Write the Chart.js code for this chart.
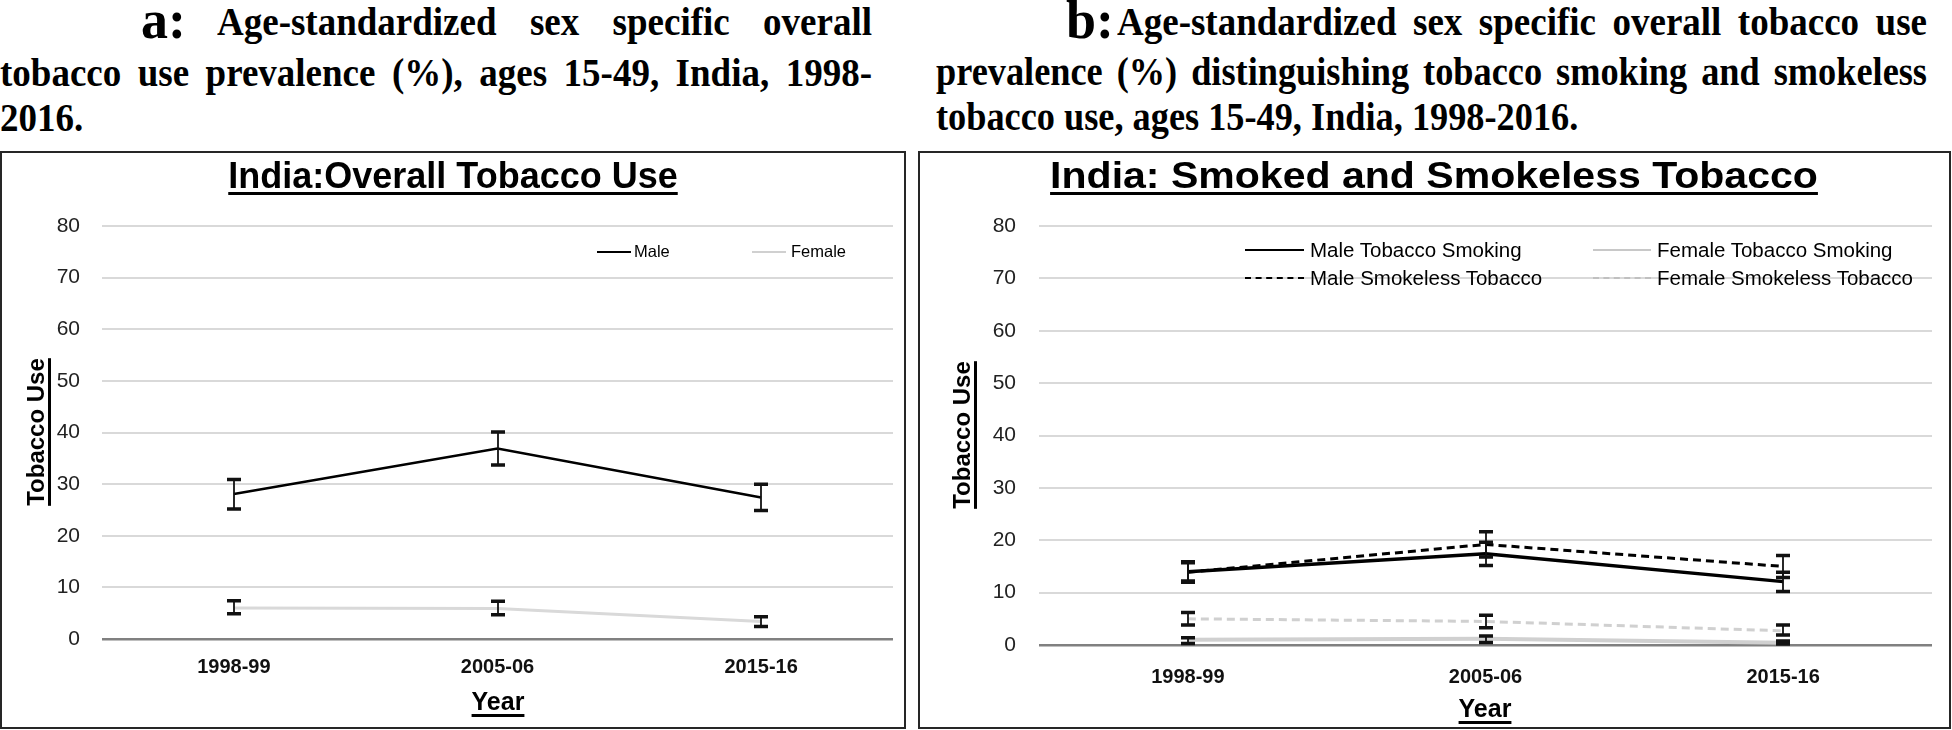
<!DOCTYPE html>
<html>
<head>
<meta charset="utf-8">
<script src="https://cdn.jsdelivr.net/npm/chart.js@4.4.1/dist/chart.umd.min.js"></script>
<style>
  body { margin: 0; width: 1952px; height: 730px; overflow: hidden; background: #fff; position: relative; }
  .hl { position: absolute; font: bold 37px "Times New Roman", "Liberation Serif", serif; line-height: 37px; color: #000;
        transform: scaleY(1.08); transform-origin: 0 31px; white-space: nowrap; }
  .just { white-space: normal; text-align: justify; text-align-last: justify; }
  .big { font-size: 54px; line-height: 54px; transform: none; }
  .box { position: absolute; top: 151px; height: 574px; border: 2px solid #262626; }
  canvas { position: absolute; }
  .ctitle { position: absolute; text-align: center; font: bold 36px "Liberation Sans", Arial, sans-serif; line-height: 36px;
            color: #000; }
  .ctitle span, .atitle span { text-decoration: underline; text-decoration-thickness: 3px; text-underline-offset: 4px; }
  .atitle { position: absolute; text-align: center; font: bold 24px "Liberation Sans", Arial, sans-serif; line-height: 24px; color: #000; }
  .leg { position: absolute; font-family: "Liberation Sans", Arial, sans-serif; color: #000; white-space: nowrap; }
  .swatch { position: absolute; height: 0; }
</style>
</head>
<body>

<div class="hl big" style="left:141px; top:-7px;">a:</div>
<div class="hl just" style="left:217px; top:4px; width:655px;">Age-standardized sex specific overall</div>
<div class="hl just" style="left:0px; top:55px; width:872px;">tobacco use prevalence (%), ages 15-49, India, 1998-</div>
<div class="hl" style="left:0px; top:100px;">2016.</div>

<div class="hl big" style="left:1066px; top:-7px;">b:</div>
<div class="hl just" style="left:1117px; top:4px; width:810px;">Age-standardized sex specific overall tobacco use</div>
<div class="hl just" style="left:936px; top:55px; width:991px; font-size:36.3px;">prevalence (%) distinguishing tobacco smoking and smokeless</div>
<div class="hl" style="left:936px; top:100px; font-size:36.3px;">tobacco use, ages 15-49, India, 1998-2016.</div>

<div class="box" style="left:0px; width:902px;"></div>
<div class="box" style="left:918px; width:1029px;"></div>

<canvas id="chartA" width="902" height="574" style="left:2px; top:153px;"></canvas>
<canvas id="chartB" width="1028" height="574" style="left:920px; top:153px;"></canvas>

<div class="ctitle" style="left:2px; width:902px; top:158px;"><span>India:Overall Tobacco Use</span></div>
<div class="ctitle" style="left:920px; width:1028px; top:158px; transform:scaleX(1.14);"><span>India: Smoked and Smokeless Tobacco</span></div>

<div class="atitle" style="left:-64px; top:420px; width:200px; transform:rotate(-90deg);"><span>Tobacco Use</span></div>
<div class="atitle" style="left:862px; top:423px; width:200px; transform:rotate(-90deg);"><span>Tobacco Use</span></div>
<div class="atitle" style="left:398px; top:689px; width:200px; font-size:25px;"><span>Year</span></div>
<div class="atitle" style="left:1385px; top:696px; width:200px; font-size:25px;"><span>Year</span></div>

<!-- legend a -->
<div class="swatch" style="left:597px; top:251px; width:34px; border-top:2.5px solid #000;"></div>
<div class="leg" style="left:634px; top:242px; font-size:16.5px;">Male</div>
<div class="swatch" style="left:752px; top:251px; width:34px; border-top:2px solid #d0d0d0;"></div>
<div class="leg" style="left:791px; top:242px; font-size:16.5px;">Female</div>

<!-- legend b -->
<div class="swatch" style="left:1245px; top:249px; width:59px; border-top:2.5px solid #000;"></div>
<div class="leg" style="left:1310px; top:238px; font-size:20.5px;">Male Tobacco Smoking</div>
<div class="swatch" style="left:1593px; top:249px; width:58px; border-top:2px solid #c8c8c8;"></div>
<div class="leg" style="left:1657px; top:238px; font-size:20.5px;">Female Tobacco Smoking</div>
<div class="swatch" style="left:1245px; top:277px; width:59px; border-top:2.5px dashed #000;"></div>
<div class="leg" style="left:1310px; top:266px; font-size:20.5px;">Male Smokeless Tobacco</div>
<div class="swatch" style="left:1593px; top:277px; width:58px; border-top:2px dashed #c0c0c0;"></div>
<div class="leg" style="left:1657px; top:266px; font-size:20.5px;">Female Smokeless Tobacco</div>

<script>
var years = ["1998-99", "2005-06", "2015-16"];
var yTicks = [0, 10, 20, 30, 40, 50, 60, 70, 80];

// panel a: overall tobacco use
var male = [28.1, 36.9, 27.4];
var maleLow = [25.2, 33.7, 24.9];
var maleHigh = [30.9, 40.1, 30.0];
var female = [6.0, 5.9, 3.4];
var femaleLow = [4.9, 4.7, 2.4];
var femaleHigh = [7.4, 7.3, 4.3];

// panel b: smoked vs smokeless
var maleSmoking = [14.0, 17.4, 12.1];
var maleSmokingLow = [12.0, 15.2, 10.2];
var maleSmokingHigh = [15.9, 19.6, 13.9];
var maleSmokeless = [13.9, 19.2, 15.0];
var maleSmokelessLow = [12.2, 16.8, 12.9];
var maleSmokelessHigh = [15.7, 21.6, 17.1];
var femaleSmoking = [1.0, 1.2, 0.45];
var femaleSmokingLow = [0.3, 0.5, 0.2];
var femaleSmokingHigh = [1.4, 1.7, 0.75];
var femaleSmokeless = [5.0, 4.5, 2.7];
var femaleSmokelessLow = [3.8, 3.3, 1.9];
var femaleSmokelessHigh = [6.2, 5.7, 3.8];

// draws the I-shaped error bars from errLow / errHigh on each dataset
var errorBars = {
  id: "errorBars",
  afterDatasetsDraw: function (chart) {
    var ctx = chart.ctx;
    var xs = chart.scales.x;
    var ys = chart.scales.y;
    ctx.save();
    chart.data.datasets.forEach(function (ds) {
      if (!ds.errLow) return;
      ds.data.forEach(function (v, i) {
        var px = Math.round(xs.getPixelForValue(i));
        var top = ys.getPixelForValue(ds.errHigh[i]);
        var bot = ys.getPixelForValue(ds.errLow[i]);
        ctx.strokeStyle = "#111";
        ctx.lineWidth = 1.8;
        ctx.beginPath();
        ctx.moveTo(px, top);
        ctx.lineTo(px, bot);
        ctx.stroke();
        ctx.lineWidth = 3.5;
        ctx.beginPath();
        ctx.moveTo(px - 7, top);
        ctx.lineTo(px + 7, top);
        ctx.moveTo(px - 7, bot);
        ctx.lineTo(px + 7, bot);
        ctx.stroke();
      });
    });
    ctx.restore();
  }
};

function makeOptions(yWidth, xHeight, padTop, padRight, yPad, xPad) {
  return {
    responsive: false,
    animation: false,
    devicePixelRatio: 1,
    layout: { padding: { top: padTop, right: padRight, left: 0, bottom: 0 } },
    plugins: { legend: { display: false }, title: { display: false }, tooltip: { enabled: false } },
    elements: { point: { radius: 0 }, line: { tension: 0 } },
    scales: {
      x: {
        offset: true,
        grid: { display: false, drawTicks: false, offset: true },
        border: { display: false },
        ticks: {
          color: "#111", padding: xPad, maxRotation: 0, autoSkip: false,
          font: { family: "Liberation Sans", size: 20, weight: "bold" }
        },
        afterFit: function (s) { s.height = xHeight; }
      },
      y: {
        min: 0, max: 80,
        afterBuildTicks: function (s) { s.ticks = yTicks.map(function (v) { return { value: v }; }); },
        grid: {
          drawTicks: false,
          lineWidth: function (c) { return c.tick && c.tick.value === 0 ? 2.5 : 2; },
          color: function (c) { return c.tick && c.tick.value === 0 ? "#808080" : "#d9d9d9"; }
        },
        border: { display: false },
        ticks: { color: "#222", padding: yPad, font: { family: "Liberation Sans", size: 21 } },
        afterFit: function (s) { s.width = yWidth; }
      }
    }
  };
}

new Chart(document.getElementById("chartA"), {
  type: "line",
  data: {
    labels: years,
    datasets: [
      { label: "Male", data: male, errLow: maleLow, errHigh: maleHigh, borderColor: "#000", borderWidth: 2.5 },
      { label: "Female", data: female, errLow: femaleLow, errHigh: femaleHigh, borderColor: "#d9d9d9", borderWidth: 3 }
    ]
  },
  options: makeOptions(100, 88, 73, 11, 22, 16),
  plugins: [errorBars]
});

new Chart(document.getElementById("chartB"), {
  type: "line",
  data: {
    labels: years,
    datasets: [
      { label: "Female Tobacco Smoking", data: femaleSmoking, errLow: femaleSmokingLow, errHigh: femaleSmokingHigh,
        borderColor: "#d0d0d0", borderWidth: 4 },
      { label: "Female Smokeless Tobacco", data: femaleSmokeless, errLow: femaleSmokelessLow, errHigh: femaleSmokelessHigh,
        borderColor: "#d0d0d0", borderWidth: 3, borderDash: [8, 5] },
      { label: "Male Tobacco Smoking", data: maleSmoking, errLow: maleSmokingLow, errHigh: maleSmokingHigh,
        borderColor: "#000", borderWidth: 3.5 },
      { label: "Male Smokeless Tobacco", data: maleSmokeless, errLow: maleSmokelessLow, errHigh: maleSmokelessHigh,
        borderColor: "#000", borderWidth: 3, borderDash: [8, 5] }
    ]
  },
  options: makeOptions(119, 82, 73, 16, 23, 20),
  plugins: [errorBars]
});
</script>
</body>
</html>
